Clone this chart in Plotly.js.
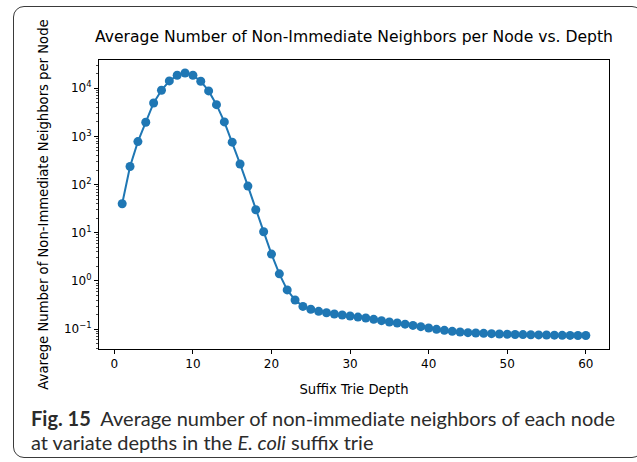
<!DOCTYPE html>
<html>
<head>
<meta charset="utf-8">
<script src="https://cdn.plot.ly/plotly-3.0.1.min.js"></script>
<style>
  html, body { margin: 0; padding: 0; background: #fff; }
  #wrap { position: relative; width: 637px; height: 462px; overflow: hidden; }
  #chart { width: 637px; height: 462px; }
  #frame { position: absolute; left: 13px; top: 6px; width: 630px; height: 452px;
           border: 1px solid #3a3a3a; border-radius: 11px; pointer-events: none; box-sizing: border-box; }
</style>
</head>
<body>
<div id="wrap">
  <div id="chart"></div>
  <div id="frame"></div>
</div>
<script>
// Suffix trie depth (x) and average number of non-immediate neighbours per node (y)
const depth = [1,2,3,4,5,6,7,8,9,10,11,12,13,14,15,16,17,18,19,20,
               21,22,23,24,25,26,27,28,29,30,31,32,33,34,35,36,37,38,39,40,
               41,42,43,44,45,46,47,48,49,50,51,52,53,54,55,56,57,58,59,60];
const avgNeighbors = [40,237,780,1970,4950,9100,14200,18600,20800,18600,
                      14000,8800,4570,2000,760,268,93,30,10.5,3.6,
                      1.4,0.65,0.40,0.295,0.257,0.233,0.218,0.205,0.195,0.186,
                      0.177,0.169,0.159,0.149,0.140,0.133,0.126,0.119,0.112,0.105,
                      0.0986,0.094,0.0895,0.0867,0.084,0.0826,0.0813,0.080,0.079,0.078,
                      0.077,0.0765,0.076,0.0755,0.075,0.0745,0.074,0.0737,0.0735,0.0733];

const xTickVals = [0,10,20,30,40,50,60];
const yTickVals = [0.1,1,10,100,1000,10000];
const yTickText = ['10<sup>\u22121</sup>','10<sup>0</sup>','10<sup>1</sup>','10<sup>2</sup>','10<sup>3</sup>','10<sup>4</sup>'];

const chartTitle = 'Average Number of Non-Immediate Neighbors per Node vs. Depth';
const xTitle = 'Suffix Trie Depth';
const yTitle = 'Avarege Number of Non-Immediate Neighbors per Node';
const captionLine1 = '<b>Fig. 15</b>  Average number of non-immediate neighbors of each node';
const captionLine2 = 'at variate depths in the <i>E. coli</i> suffix trie';

const L = 99, R = 28, T = 60, B = 113, W = 637, H = 462;
const pw = W - L - R, ph = H - T - B;
const px = x => (x - L) / pw;
const py = y => (H - B - y) / ph;

const trace = {
  x: depth, y: avgNeighbors, type: 'scatter', mode: 'lines+markers',
  line: { color: '#1f77b4', width: 2 },
  marker: { color: '#1f77b4', size: 9 },
  hoverinfo: 'x+y'
};

const axisFont = { family: 'DejaVu Sans, sans-serif', size: 12, color: '#000' };
const labelFont = { family: 'DejaVu Sans, sans-serif', size: 13.2, color: '#000' };

const layout = {
  width: W, height: H,
  margin: { l: L, r: R, t: T, b: B, pad: 0 },
  paper_bgcolor: '#fff', plot_bgcolor: '#fff',
  showlegend: false,
  font: axisFont,
  title: { text: chartTitle, font: { family: 'DejaVu Sans, sans-serif', size: 15.6, color: '#000' },
           x: 0.5, xref: 'paper', xanchor: 'center', y: 1 - 37 / H, yref: 'container', yanchor: 'middle' },
  xaxis: {
    range: [-1.95, 62.95], tickmode: 'array', tickvals: xTickVals,
    ticks: 'outside', ticklen: 4, tickwidth: 1, tickcolor: '#000',
    showgrid: false, zeroline: false, showline: true, linecolor: '#000', linewidth: 1, mirror: true,
    tickfont: axisFont,
    title: { text: xTitle, font: labelFont, standoff: 14 }
  },
  yaxis: {
    type: 'log', range: [-1.415, 4.587], tickmode: 'array', tickvals: yTickVals, ticktext: yTickText,
    ticks: 'outside', ticklen: 4, tickwidth: 1, tickcolor: '#000',
    minor: { dtick: 'D1', ticks: 'outside', ticklen: 2, tickwidth: 0.7, tickcolor: '#000', showgrid: false },
    showgrid: false, zeroline: false, showline: true, linecolor: '#000', linewidth: 1, mirror: true,
    tickfont: axisFont,
    title: { text: yTitle, font: labelFont, standoff: 12 }
  },
  annotations: [
    { text: captionLine1, xref: 'paper', yref: 'paper', x: px(29), y: py(418), xanchor: 'left', yanchor: 'middle',
      showarrow: false, font: { family: 'Lato, sans-serif', size: 20, color: '#2b2b2b' } },
    { text: captionLine2, xref: 'paper', yref: 'paper', x: px(29), y: py(442), xanchor: 'left', yanchor: 'middle',
      showarrow: false, font: { family: 'Lato, sans-serif', size: 20, color: '#2b2b2b' } }
  ]
};

Plotly.newPlot('chart', [trace], layout, { displayModeBar: false, staticPlot: true });
</script>
</body>
</html>
